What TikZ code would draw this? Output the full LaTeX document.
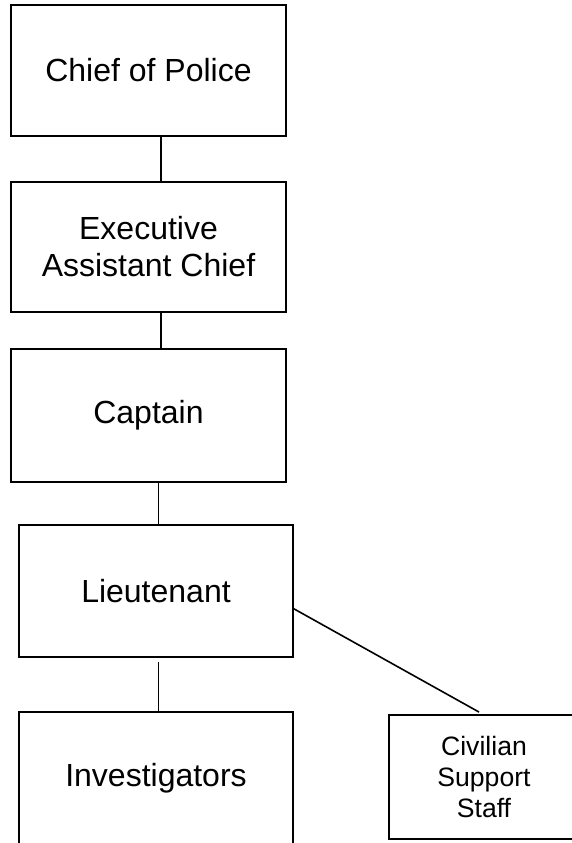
\documentclass[tikz,border=0pt]{standalone}
\usepackage{fontspec}
\setmainfont{Liberation Sans}
\begin{document}
\begin{tikzpicture}[x=1pt,y=-1pt,
  box/.style={draw=black, line width=1.8pt, rectangle, inner sep=0pt, outer sep=0pt, fill=white, align=center},
  bigtxt/.style={font=\fontsize{32}{36.8}\selectfont},
  smalltxt/.style={font=\fontsize{26.6}{30.6}\selectfont},
  link/.style={draw=black, line width=1.6pt}]
\fill[white] (0,0) rectangle (572,843);
\useasboundingbox (0,0) rectangle (572,843);
\clip (0,0) rectangle (572,843);
\node[box, bigtxt, minimum width=275pt, minimum height=131.6pt] (chief) at (148.5,70.5) {Chief of Police};
\node[box, bigtxt, minimum width=275pt, minimum height=129.7pt] (exec) at (148.5,246.8) {Executive\\Assistant Chief};
\node[box, bigtxt, minimum width=275pt, minimum height=132.7pt] (capt) at (148.5,415.6) {Captain};
\node[box, bigtxt, minimum width=274pt, minimum height=132.3pt] (lieut) at (156,591.2) {Lieutenant};
\node[box, bigtxt, minimum width=274pt, minimum height=133pt] (inv) at (156,778.2) {Investigators};
\node[box, smalltxt, minimum width=190pt, minimum height=123.7pt] (civ) at (484,776.9) {Civilian\\Support\\Staff};
\draw[link] ([xshift=12.2pt]chief.south) -- ([xshift=12.2pt]exec.north);
\draw[link] ([xshift=12.2pt]exec.south) -- ([xshift=12.2pt]capt.north);
\draw[link] ([xshift=9.8pt]capt.south) -- ([xshift=2.3pt]lieut.north);
\draw[link] ([xshift=2.3pt,yshift=-4.4pt]lieut.south) -- ([xshift=2.3pt]inv.north);
\draw[link] ([yshift=-17.1pt]lieut.east) -- ([xshift=-5pt,yshift=3pt]civ.north);
\end{tikzpicture}
\end{document}
